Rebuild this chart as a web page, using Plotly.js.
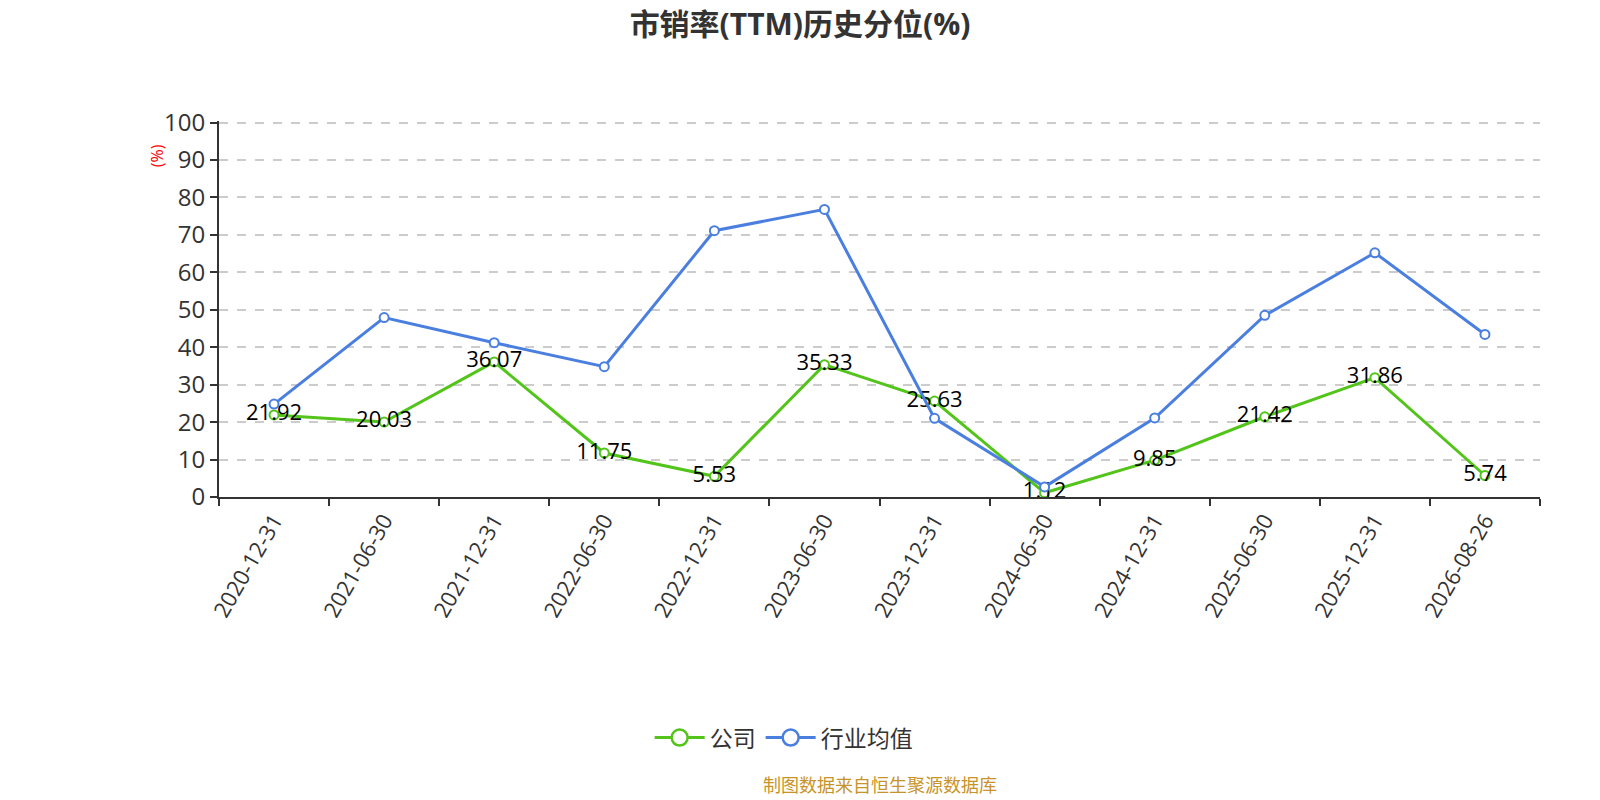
<!DOCTYPE html>
<html>
<head>
<meta charset="utf-8">
<script src="https://cdn.plot.ly/plotly-3.0.1.min.js"></script>
<style>
  html, body { margin: 0; padding: 0; background: #fff; }
  #chart { width: 1600px; height: 800px; }
</style>
</head>
<body>
<div id="chart"></div>
<script>
const dates = ['2020-12-31', '2021-06-30', '2021-12-31', '2022-06-30', '2022-12-31', '2023-06-30',
  '2023-12-31', '2024-06-30', '2024-12-31', '2025-06-30', '2025-12-31', '2026-08-26'];
const companyValues = [21.92, 20.03, 36.07, 11.75, 5.53, 35.33, 25.63, 1.12, 9.85, 21.42, 31.86, 5.74];
const industryValues = [24.8, 47.9, 41.2, 34.8, 71.1, 76.8, 21.0, 2.7, 21.1, 48.5, 65.2, 43.4];

const FONT = 'Open Sans, Noto Sans CJK SC, sans-serif';
const GREEN = '#52C41A';
const BLUE = '#4A7FE0';

const company = {
  name: '公司',
  x: dates,
  y: companyValues,
  type: 'scatter',
  mode: 'lines+markers+text',
  showlegend: false,
  text: companyValues.map(v => v.toFixed(2)),
  textposition: 'middle center',
  textfont: { family: FONT, size: 22, color: '#000' },
  line: { color: GREEN, width: 3 },
  marker: { symbol: 'circle', size: 9, color: '#fff', line: { color: GREEN, width: 2 } },
  hovertemplate: '%{x}<br>公司: %{y:.2f}<extra></extra>'
};

const industry = {
  name: '行业均值',
  x: dates,
  y: industryValues,
  type: 'scatter',
  mode: 'lines+markers',
  showlegend: false,
  line: { color: BLUE, width: 3 },
  marker: { symbol: 'circle', size: 9, color: '#fff', line: { color: BLUE, width: 2 } },
  hovertemplate: '%{x}<br>行业均值: %{y:.2f}<extra></extra>'
};

// 图例单独用空数据的 trace，圆圈可以画大一点
const legendItem = (name, color) => ({
  name,
  x: [null],
  y: [null],
  type: 'scatter',
  mode: 'lines+markers',
  line: { color, width: 3 },
  marker: { symbol: 'circle', size: 16, color: '#fff', line: { color, width: 2.5 } },
  hoverinfo: 'skip'
});

const layout = {
  width: 1600,
  height: 800,
  margin: { t: 121, b: 303, l: 219, r: 60 },
  paper_bgcolor: '#fff',
  plot_bgcolor: '#fff',
  font: { family: FONT, color: '#333' },
  title: {
    text: '<b>市销率(TTM)历史分位(%)</b>',
    font: { family: FONT, size: 30, color: '#333' },
    x: 0.5, xanchor: 'center',
    y: 0.97, yanchor: 'middle'
  },
  xaxis: {
    type: 'category',
    range: [-0.5, dates.length - 0.5],
    tickson: 'boundaries',
    ticks: 'outside',
    ticklen: 7,
    tickcolor: '#333',
    tickwidth: 1.5,
    showline: true,
    linecolor: '#333',
    linewidth: 2,
    showgrid: false,
    tickangle: -60,
    tickfont: { family: FONT, size: 22, color: '#333' },
    fixedrange: true
  },
  yaxis: {
    range: [0, 100.4],
    tickvals: [0, 10, 20, 30, 40, 50, 60, 70, 80, 90, 100],
    ticks: 'outside',
    ticklen: 7,
    tickcolor: '#333',
    tickwidth: 1.5,
    showline: true,
    linecolor: '#333',
    linewidth: 2,
    gridcolor: '#ccc',
    griddash: 'dash',
    gridwidth: 1.5,
    zeroline: false,
    tickfont: { family: FONT, size: 24, color: '#333' },
    fixedrange: true
  },
  showlegend: true,
  legend: {
    orientation: 'h',
    x: 0.326, xanchor: 'left',
    y: -0.64, yanchor: 'middle',
    font: { family: FONT, size: 23, color: '#333' },
    itemwidth: 50
  },
  annotations: [
    {
      text: '(%)',
      xref: 'paper', yref: 'paper',
      x: -0.047, y: 0.909,
      xanchor: 'center', yanchor: 'middle',
      textangle: -90,
      showarrow: false,
      font: { family: FONT, size: 16, color: '#f00' }
    },
    {
      text: '制图数据来自恒生聚源数据库',
      xref: 'paper', yref: 'paper',
      x: 0.5, y: -0.765,
      xanchor: 'center', yanchor: 'middle',
      showarrow: false,
      font: { family: FONT, size: 18, color: '#C8932A' }
    }
  ]
};

Plotly.newPlot('chart', [company, industry, legendItem('公司', GREEN), legendItem('行业均值', BLUE)],
  layout, { displayModeBar: false, responsive: false });
</script>
</body>
</html>
